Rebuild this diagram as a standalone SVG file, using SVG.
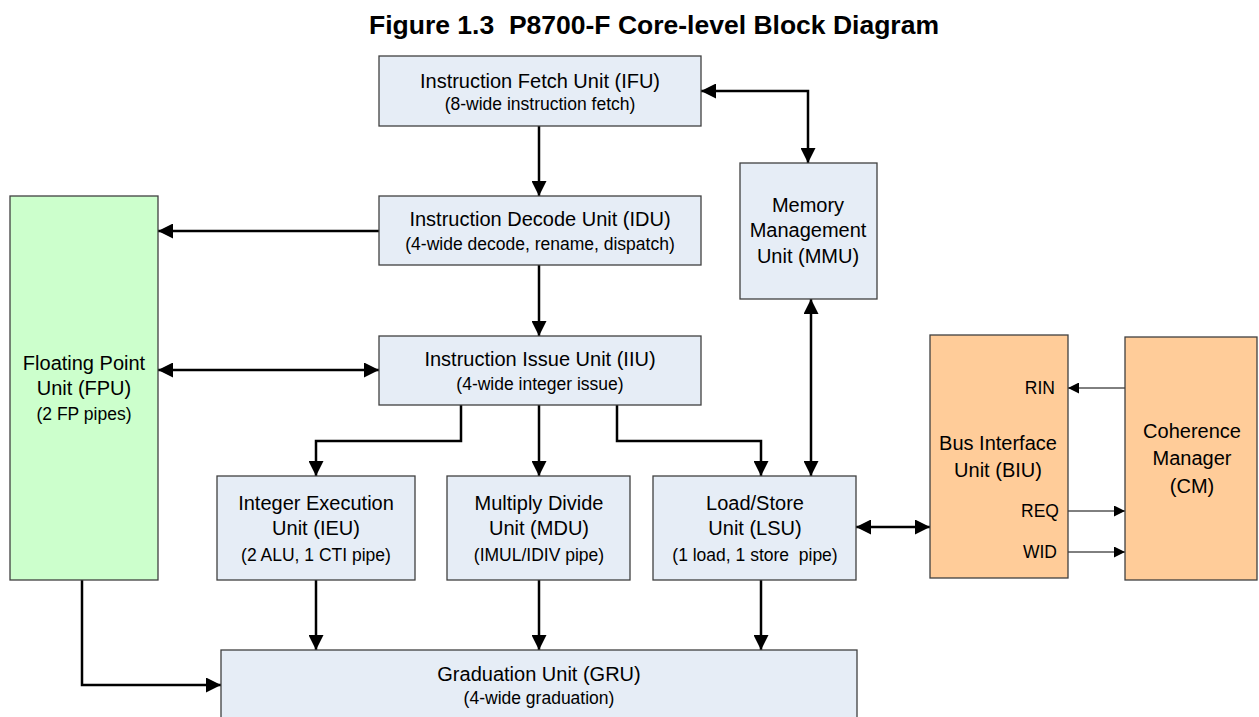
<svg xmlns="http://www.w3.org/2000/svg" width="1259" height="717" viewBox="0 0 1259 717">
<style>
.box{fill:#e6edf6;stroke:#404040;stroke-width:1.3}
.fpu{fill:#ccffcc;stroke:#404040;stroke-width:1.3}
.org{fill:#ffcc99;stroke:#404040;stroke-width:1.3}
text{font-family:"Liberation Sans",Arial,sans-serif;fill:#000;text-anchor:middle}
.t{font-size:20px}
.s{font-size:17.5px}
.r{text-anchor:end;font-size:17.5px}
.title{font-size:26.5px;font-weight:bold}
.c{fill:none;stroke:#000;stroke-width:2.5}
.cs{fill:none;stroke:#000;stroke-width:1}
</style>
<defs>
<marker id="a" viewBox="0 0 16 16" refX="16" refY="8" markerWidth="16" markerHeight="15" markerUnits="userSpaceOnUse" orient="auto-start-reverse"><path d="M0,0 L16,8 L0,16 z" fill="#000"/></marker>
<marker id="b" viewBox="0 0 12 12" refX="12" refY="6" markerWidth="12" markerHeight="11" markerUnits="userSpaceOnUse" orient="auto-start-reverse"><path d="M0,0 L12,6 L0,12 z" fill="#000"/></marker>
</defs>
<rect width="1259" height="717" fill="#fff"/>
<text class="title" x="654" y="34">Figure 1.3&#160; P8700-F Core-level Block Diagram</text>

<g id="connectors">
<path class="c" d="M539,126 V196" marker-end="url(#a)"/>
<path class="c" d="M539,265 V336" marker-end="url(#a)"/>
<path class="c" d="M539,405 V476" marker-end="url(#a)"/>
<path class="c" d="M461,405 V441 H316 V476" marker-end="url(#a)"/>
<path class="c" d="M617,405 V441 H761 V476" marker-end="url(#a)"/>
<path class="c" d="M701,91 H808 V163" marker-start="url(#a)" marker-end="url(#a)"/>
<path class="c" d="M811,299 V476" marker-start="url(#a)" marker-end="url(#a)"/>
<path class="c" d="M379,231 H158" marker-end="url(#a)"/>
<path class="c" d="M158,370 H379" marker-start="url(#a)" marker-end="url(#a)"/>
<path class="c" d="M856,527 H930" marker-start="url(#a)" marker-end="url(#a)"/>
<path class="c" d="M316,580 V650" marker-end="url(#a)"/>
<path class="c" d="M539,580 V650" marker-end="url(#a)"/>
<path class="c" d="M761,580 V650" marker-end="url(#a)"/>
<path class="c" d="M82,580 V685 H221" marker-end="url(#a)"/>
<path class="cs" d="M1125,388 H1068" marker-end="url(#b)"/>
<path class="cs" d="M1068,511 H1125" marker-end="url(#b)"/>
<path class="cs" d="M1068,552 H1125" marker-end="url(#b)"/>
</g>

<g id="ifu"><rect class="box" x="379" y="56" width="322" height="70"/>
<text class="t" x="540" y="88">Instruction Fetch Unit (IFU)</text>
<text class="s" x="540" y="110">(8-wide instruction fetch)</text></g>

<g id="idu"><rect class="box" x="379" y="196" width="322" height="69"/>
<text class="t" x="540" y="226">Instruction Decode Unit (IDU)</text>
<text class="s" x="540" y="250">(4-wide decode, rename, dispatch)</text></g>

<g id="iiu"><rect class="box" x="379" y="336" width="322" height="69"/>
<text class="t" x="540" y="366">Instruction Issue Unit (IIU)</text>
<text class="s" x="540" y="390">(4-wide integer issue)</text></g>

<g id="mmu"><rect class="box" x="740" y="163" width="137" height="136"/>
<text class="t" x="808" y="212">Memory</text>
<text class="t" x="808" y="237">Management</text>
<text class="t" x="808" y="263">Unit (MMU)</text></g>

<g id="fpu"><rect class="fpu" x="10" y="196" width="148" height="384"/>
<text class="t" x="84" y="370">Floating Point</text>
<text class="t" x="84" y="395">Unit (FPU)</text>
<text class="s" x="84" y="420">(2 FP pipes)</text></g>

<g id="ieu"><rect class="box" x="217" y="476" width="198" height="104"/>
<text class="t" x="316" y="510">Integer Execution</text>
<text class="t" x="316" y="535">Unit (IEU)</text>
<text class="s" x="316" y="561">(2 ALU, 1 CTI pipe)</text></g>

<g id="mdu"><rect class="box" x="447" y="476" width="183" height="104"/>
<text class="t" x="539" y="510">Multiply Divide</text>
<text class="t" x="539" y="535">Unit (MDU)</text>
<text class="s" x="539" y="561">(IMUL/IDIV pipe)</text></g>

<g id="lsu"><rect class="box" x="653" y="476" width="203" height="104"/>
<text class="t" x="755" y="510">Load/Store</text>
<text class="t" x="755" y="535">Unit (LSU)</text>
<text class="s" x="755" y="561">(1 load, 1 store&#160; pipe)</text></g>

<g id="gru"><rect class="box" x="221" y="650" width="636" height="75"/>
<text class="t" x="539" y="681">Graduation Unit (GRU)</text>
<text class="s" x="539" y="704">(4-wide graduation)</text></g>

<g id="biu"><rect class="org" x="930" y="335" width="138" height="243"/>
<text class="r" x="1055" y="394">RIN</text>
<text class="t" x="998" y="450">Bus Interface</text>
<text class="t" x="998" y="477">Unit (BIU)</text>
<text class="r" x="1059" y="517">REQ</text>
<text class="r" x="1057" y="558">WID</text></g>

<g id="cm"><rect class="org" x="1125" y="337" width="132" height="243"/>
<text class="t" x="1192" y="438">Coherence</text>
<text class="t" x="1192" y="465">Manager</text>
<text class="t" x="1192" y="493">(CM)</text></g>
</svg>
